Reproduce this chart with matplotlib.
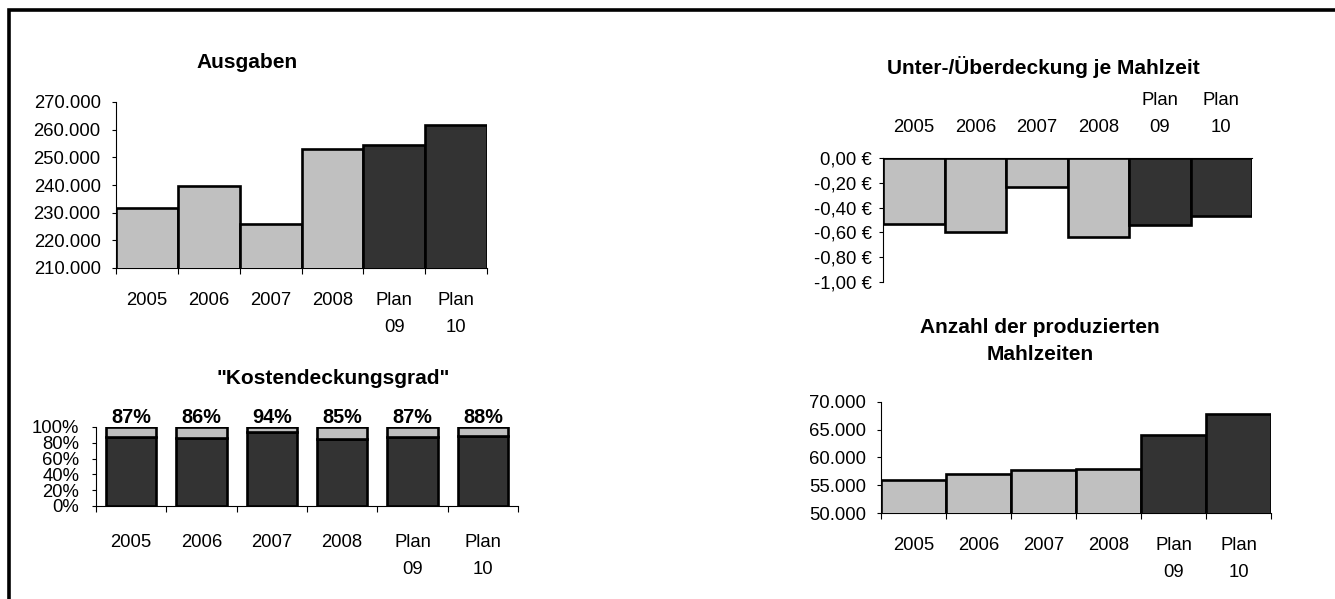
import numpy as np
import matplotlib
matplotlib.use("Agg")
import matplotlib.pyplot as plt
from matplotlib.lines import Line2D
from matplotlib.ticker import FuncFormatter, FixedLocator

plt.rcParams['font.family'] = ['Liberation Sans', 'DejaVu Sans']

kategorien = ["2005", "2006", "2007", "2008", "Plan\n09", "Plan\n10"]
ausgaben = [231700, 239500, 225900, 252900, 254300, 261800]
kostendeckung = [0.87, 0.86, 0.94, 0.85, 0.87, 0.88]
deckung_je_mahlzeit = [-0.53, -0.60, -0.23, -0.64, -0.54, -0.47]
mahlzeiten = [55900, 57000, 57700, 58000, 64000, 67900]

HELL = "#c0c0c0"
DUNKEL = "#333333"
farben = [HELL, HELL, HELL, HELL, DUNKEL, DUNKEL]

FS = 13.3
FS_TITEL = 15

W, H = 1335, 599
fig = plt.figure(figsize=(W / 100, H / 100), dpi=100)


def rect(x0, y0, x1, y1):
    return [x0 / W, 1 - y1 / H, (x1 - x0) / W, (y1 - y0) / H]


def tausender(v, pos):
    return f"{v:,.0f}".replace(",", ".")


def euro(v, pos):
    if abs(v) < 1e-9:
        return "0,00 €"
    return f"{v:.2f}".replace(".", ",") + " €"


def prozent(v, pos):
    return f"{v * 100:.0f}%"


def kategorie_achse(ax, pad, oben=False):
    n = len(kategorien)
    ax.set_xlim(-0.5, n - 0.5)
    ax.set_xticks(np.arange(n))
    ax.set_xticklabels(kategorien, fontsize=FS)
    ax.xaxis.set_minor_locator(FixedLocator(np.arange(n + 1) - 0.5))
    if oben:
        ax.xaxis.tick_top()
        ax.tick_params(axis="x", which="major", length=0, pad=pad)
        ax.tick_params(axis="x", which="minor", length=0)
    else:
        ax.tick_params(axis="x", which="major", length=0, pad=pad)
        ax.tick_params(axis="x", which="minor", length=4, width=0.8, direction="out")
    for tick in ax.xaxis.get_major_ticks():
        tick.label1.set_linespacing(1.72)
        tick.label2.set_linespacing(1.72)


def rahmen(ax, sichtbar):
    for s in ["left", "right", "top", "bottom"]:
        ax.spines[s].set_visible(s in sichtbar)
        ax.spines[s].set_linewidth(0.8)


x = np.arange(len(kategorien))

# Ausgaben
ax1 = fig.add_axes(rect(116, 102, 487, 268))
ax1.bar(x, ausgaben, width=1.0, color=farben, edgecolor="black", linewidth=1.9, zorder=3)
ax1.set_ylim(210000, 270000)
ax1.set_yticks(np.arange(210000, 270001, 10000))
ax1.yaxis.set_major_formatter(FuncFormatter(tausender))
ax1.tick_params(axis="y", labelsize=FS, length=3, width=0.8, pad=8)
kategorie_achse(ax1, pad=17.5)
rahmen(ax1, ["left", "bottom"])
fig.text(247 / W, 1 - 62 / H, "Ausgaben", ha="center", va="center",
         fontsize=FS_TITEL, fontweight="bold")

# Kostendeckungsgrad
ax2 = fig.add_axes(rect(96, 427, 518, 506))
ax2.bar(x, kostendeckung, width=0.72, color=DUNKEL, edgecolor="black", linewidth=1.9, zorder=3)
rest = [1 - k for k in kostendeckung]
ax2.bar(x, rest, bottom=kostendeckung, width=0.72, color=HELL, edgecolor="black",
        linewidth=1.9, zorder=3)
for xi, k in zip(x, kostendeckung):
    ax2.annotate(f"{k * 100:.0f}%", (xi, 1.0), xytext=(0, 0), textcoords="offset points",
                 ha="center", va="bottom", fontsize=14.3, fontweight="bold")
ax2.set_ylim(0, 1)
ax2.set_yticks(np.arange(0, 1.01, 0.2))
ax2.yaxis.set_major_formatter(FuncFormatter(prozent))
ax2.tick_params(axis="y", labelsize=FS, length=3, width=0.8, pad=9)
kategorie_achse(ax2, pad=20.5)
rahmen(ax2, ["left", "bottom"])
fig.text(333 / W, 1 - 378 / H, "\"Kostendeckungsgrad\"", ha="center", va="center",
         fontsize=FS_TITEL, fontweight="bold")

# Unter-/Überdeckung je Mahlzeit
ax3 = fig.add_axes(rect(883, 158, 1252, 282))
ax3.bar(x, deckung_je_mahlzeit, width=1.0, color=farben, edgecolor="black", linewidth=1.9, zorder=3)
ax3.set_ylim(-1.0, 0.0)
ax3.set_yticks(np.arange(-1.0, 0.01, 0.2))
ax3.yaxis.set_major_formatter(FuncFormatter(euro))
ax3.tick_params(axis="y", labelsize=FS, length=3, width=0.8, pad=5)
kategorie_achse(ax3, pad=16, oben=True)
rahmen(ax3, ["left", "top"])
fig.text(1043 / W, 1 - 67 / H, "Unter-/Überdeckung je Mahlzeit", ha="center", va="center",
         fontsize=FS_TITEL, fontweight="bold")

# Anzahl der produzierten Mahlzeiten
ax4 = fig.add_axes(rect(881, 402, 1271, 513))
ax4.bar(x, mahlzeiten, width=1.0, color=farben, edgecolor="black", linewidth=1.9, zorder=3)
ax4.set_ylim(50000, 70000)
ax4.set_yticks(np.arange(50000, 70001, 5000))
ax4.yaxis.set_major_formatter(FuncFormatter(tausender))
ax4.tick_params(axis="y", labelsize=FS, length=3, width=0.8, pad=8)
kategorie_achse(ax4, pad=17.5)
rahmen(ax4, ["left", "bottom"])
fig.text(1040 / W, 1 - 341 / H, "Anzahl der produzierten\nMahlzeiten", ha="center",
         va="center", fontsize=FS_TITEL, fontweight="bold", linespacing=1.55)

# Rahmen um die Seite (rechts und unten angeschnitten)
fig.add_artist(Line2D([8.5 / W, 8.5 / W, 1.01], [-0.01, 1 - 10 / H, 1 - 10 / H],
                      transform=fig.transFigure, color="black", linewidth=2.6,
                      solid_joinstyle="miter"))

fig.savefig("out.png", dpi=100)
